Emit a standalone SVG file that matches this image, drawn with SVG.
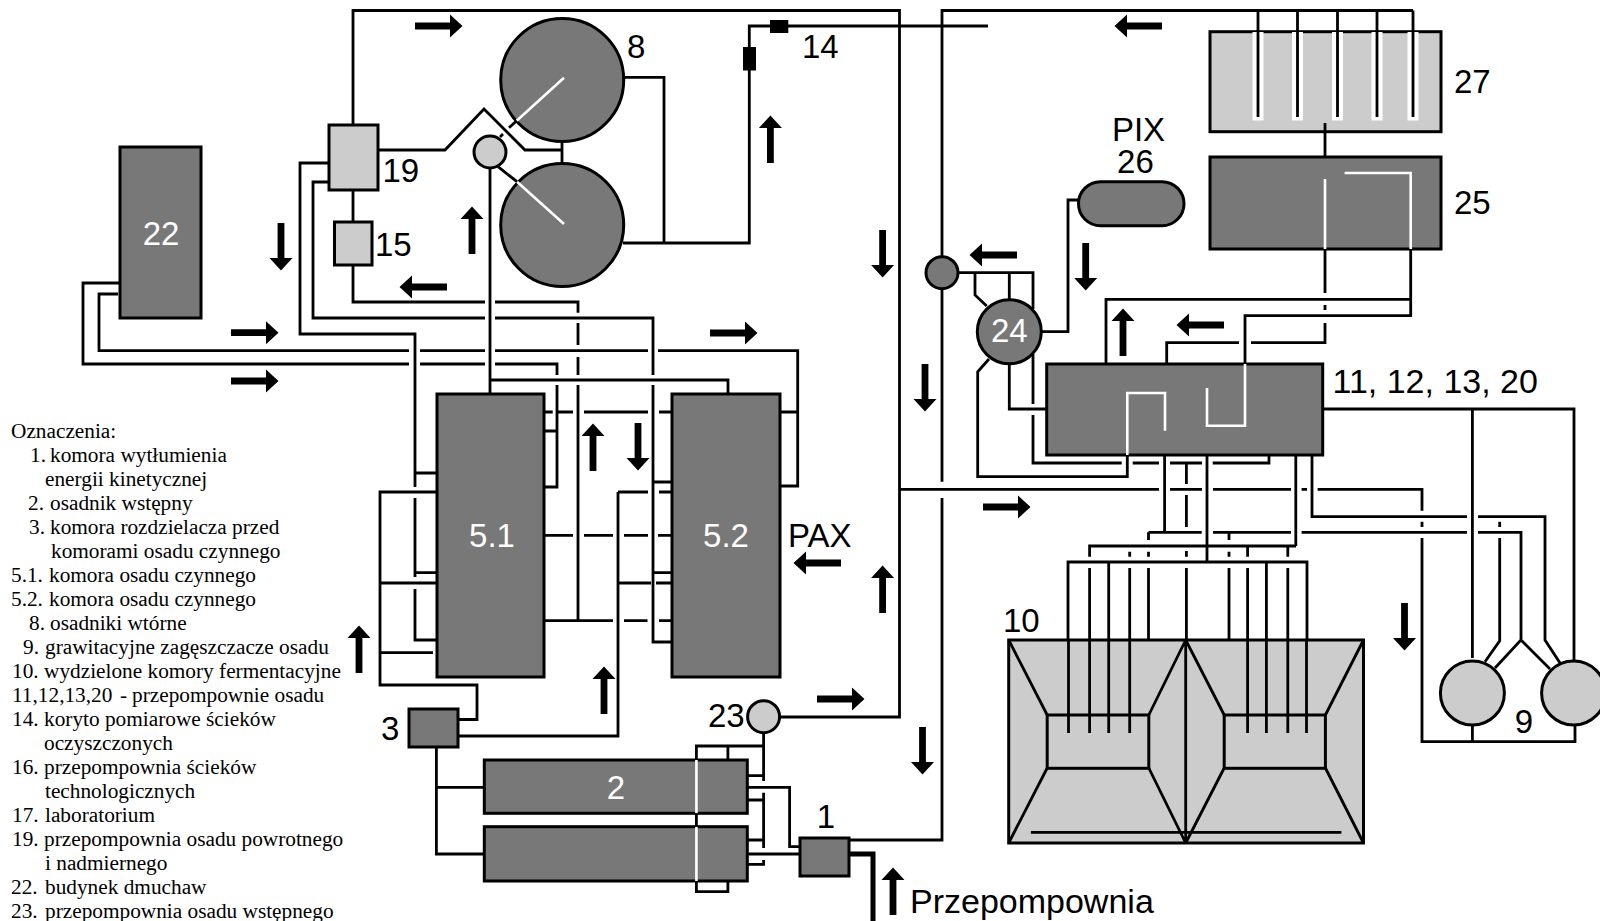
<svg xmlns="http://www.w3.org/2000/svg" width="1600" height="921" viewBox="0 0 1600 921">
<style>
.d{fill:#787878;stroke:#000;stroke-width:3}
.l{fill:#ccc;stroke:#000;stroke-width:3}
.w{fill:none;stroke:#fff;stroke-width:2.6}
.p{fill:none;stroke:#000;stroke-width:2.8}
.n{font-family:"Liberation Sans",Arial,sans-serif;font-size:33px;fill:#000}
.z{font-size:34px}
.t{fill:#fff;text-anchor:middle}
.c{text-anchor:middle}
.g{font-family:"Liberation Serif","Times New Roman",serif;font-size:21.3px;fill:#000}
.b{fill:#000;stroke:none}
</style>
<defs><path id="ar" class="b" d="M0,-3.4H35V-11.5L47.5,0L35,11.5V3.4H0Z"/></defs>
<rect width="1600" height="921" fill="#fff"/>
<g id="n22"><rect class="d" x="120" y="147" width="81" height="171"/><text class="n t" x="161" y="245">22</text></g>
<g id="n19"><rect class="l" x="329" y="125" width="49" height="65"/><text class="n" x="382.5" y="182">19</text></g>
<g id="n15"><rect class="l" x="334.5" y="222" width="37.5" height="43"/><text class="n" x="375" y="256">15</text></g>
<g id="n8"><circle class="d" cx="562.2" cy="80" r="61.5"/><circle class="d" cx="562.2" cy="225" r="61.5"/><path class="w" d="M564,77.7L516.7,120.7M564,224L517,181.7"/><text class="n" x="627" y="58">8</text></g>
<g id="n8c"><circle class="l" cx="490" cy="152" r="16"/></g>
<g id="n14"><rect class="b" x="743" y="47" width="13" height="23.5"/><rect class="b" x="770" y="20" width="18.3" height="13"/><text class="n" x="802" y="58">14</text></g>
<g id="n51"><rect class="d" x="437" y="394" width="107" height="283"/><text class="n t" x="492" y="547">5.1</text></g>
<g id="n52"><rect class="d" x="672" y="394" width="108" height="283"/><text class="n t" x="726" y="547">5.2</text></g>
<g id="n3"><rect class="d" x="409" y="709" width="49" height="38"/><text class="n" x="381" y="740">3</text></g>
<g id="n2a"><rect class="d" x="484.3" y="760" width="263" height="53.3"/><path class="w" d="M696.4,760V813.3"/><text class="n t" x="616" y="799">2</text></g>
<g id="n2b"><rect class="d" x="484.3" y="826.7" width="263" height="54.3"/><path class="w" d="M696.4,826.7V881"/></g>
<g id="n23"><circle class="l" cx="763.6" cy="716.7" r="16"/><text class="n" x="708" y="727">23</text></g>
<g id="n1"><rect class="d" x="800" y="838" width="49" height="38"/><text class="n c" x="826" y="828">1</text></g>
<g id="n24a"><circle class="d" cx="942" cy="272.7" r="16"/></g>
<g id="n24"><circle class="d" cx="1009.3" cy="331.7" r="32"/><text class="n t" x="1009.3" y="342">24</text></g>
<g id="n26"><rect class="d" x="1078.5" y="181.7" width="105.5" height="44" rx="22" ry="22"/><text class="n c" x="1138.5" y="141">PIX</text><text class="n c" x="1135.4" y="173">26</text></g>
<g id="n27"><rect class="l" x="1210" y="31.7" width="231" height="100"/><path d="M1252.5,32V120.5H1263.5V32ZM1292,32V120.5H1303V32ZM1332,32V120.5H1343V32ZM1371.5,32V120.5H1382.5V32ZM1407.5,32V120.5H1418.5V32Z" fill="#fff"/><text class="n" x="1454" y="92.5">27</text></g>
<g id="n25"><rect class="d" x="1210" y="157" width="231" height="92"/><path class="w" d="M1325,179V249M1344.6,173H1410.7V249"/><text class="n" x="1454" y="214">25</text></g>
<g id="n11"><rect class="d" x="1046.7" y="364" width="276" height="91"/><path class="w" d="M1127.3,455V393H1165V430.7M1207,388V425.7H1245V364"/><text class="n z" x="1332.5" y="393">11, 12, 13, 20</text></g>
<g id="n10"><rect class="l" x="1008.7" y="640" width="354.8" height="203"/><rect class="l" x="1047.2" y="715" width="101.6" height="53.3"/><rect class="l" x="1224.2" y="715" width="101.2" height="53.3"/>
<path class="p" d="M1008.7,640L1047.2,715M1185.7,640L1148.8,715M1185.7,640L1224.2,715M1363.5,640L1325.4,715M1008.7,843L1047.2,768M1185.7,843L1148.8,768M1185.7,843L1224.2,768M1363.5,843L1325.4,768M1185.7,640V843M1030.9,832.3H1341.4"/><text class="n" x="1003" y="632">10</text></g>
<g id="n9"><circle class="l" cx="1472.4" cy="693" r="32"/><circle class="l" cx="1573.6" cy="693" r="32"/><text class="n c" x="1524" y="733">9</text></g>
<g id="connectors" class="p">
<path class="p" d="M353,125V10.5H899.5V717H779.6"/>
<path class="p" d="M353,190V222M353,265V302H485M495,302H578V312.7M578,323V345M578,357V375M578,385V620.7"/>
<path class="p" d="M329,163H300V334H415V473H437M415,473V487M415,498V577M415,572.7H437M415,589V640H437"/>
<path class="p" d="M329,182H313V318H485M495,318H653V375M653,385V642H672M653,482H672M653,572.7H672"/>
<path class="p" d="M120,283H83V364H409M420,364H485M495,364H557V375M557,385V487H544M557,431H544"/>
<path class="p" d="M118,294H99V350.7H409M420,350.7H485M495,350.7H648M658,350.7H797.7V486H780M797.7,412H780"/>
<path class="p" d="M490,168V394M490,380H728V394"/>
<path class="p" d="M544,412H552.7M557,412H573M584,412H648M659,412H672M544,535.3H573M584,535.3H613M624,535.3H648M658,535.3H672M618,492H648M659,492H672M619,583H651M656,583H672M544,620.7H613M624,620.7H647.5M659,620.7H672"/>
<path class="p" d="M437,492H380V685H477V719.5H458M380,583H437M380,652.7H433"/>
<path class="p" d="M618,492V736H458"/>
<path class="p" d="M378,150H445L484,109L525,150H562M562,142V163M516.7,120.7L509,127.7M503,134L500,137M517,181.7L498,166.7"/>
<path class="p" d="M624,77.3H664V243M623,243H749.3V26H988"/>
<path class="p" d="M942,256V10.5H1413M942,289V481.7M942,498V840H849"/>
<path d="M849,854H873V921" fill="none" stroke="#000" stroke-width="5"/>
<path class="p" d="M436.4,747V854H484.3M436.4,787.3H484.3"/>
<path class="p" d="M763.6,733V781M763.6,792.7V848M763.6,860V864.3H747.5M763.6,775.7H747.5M763.6,800H747.5M763.6,840H747.5M747.5,787.3H789.6V846.7H800M747.5,854H800"/>
<path class="p" d="M696.4,760V746H763.6M727.9,746V760M696.4,813.3V826.7M696.4,881V891.7H727.9V881"/>
<path class="p" d="M900,489.3H1159M1170,489.3H1202M1213,489.3H1291M1301.6,489.3H1307M1317.6,489.3H1422V510.7M1422,521.7V527M1422,538V741.7H1575V725M1472.4,741.7V725"/>
<path class="p" d="M1322.7,409H1574V661M1472.4,409V658"/>
<path class="p" d="M1312,455V516.7H1467M1478,516.7H1545V640L1560,663"/>
<path class="p" d="M1148.5,532.3H1201.7M1213,532.3H1291M1301.6,532.3H1467M1478,532.3H1521V640L1495,668M1521,640L1550,669"/>
<path class="p" d="M1499.7,521.7V527M1499.7,538V640.7L1485,661.7"/>
<path class="p" d="M1106,364V299.3H1411M1166.7,364V342.7H1239M1251,342.7H1325V323M1325,310V305M1325,293V249"/>
<path class="p" d="M1245,364V315.7H1410.7V249"/>
<path class="p" d="M1325,123V157M1258,10.5V117M1297.5,10.5V117M1337.5,10.5V117M1377,10.5V117M1413,10.5V117"/>
<path class="p" d="M1078.5,200H1068V331.7H1041"/>
<path class="p" d="M958,272.7H1033V309M1033,354V404M1033,415V463H1121.7M1132.7,463H1159M1170,463H1202M1212.7,463H1269V455M975,272.7V295L986.7,306M1009.3,272.7V300"/>
<path class="p" d="M1009.3,363V409H1046.7M989,359L977.7,371.7V476.7H1127.3V455"/>
<path class="p" d="M1164.6,455V532.3M1207,455V562M1295.8,455V546M1186.4,463V484M1186.4,495V527M1186.4,551V556.7M1186.4,568V640"/>
<path class="p" d="M1089.6,556.7V546H1296M1068,640V562H1307V640M1108.7,562V640M1266.4,562V640M1089.6,568V733M1068.5,640V733M1108.7,640V733M1129.7,551.7V556.7M1129.7,568V733M1148.5,532.3V540M1148.5,551.7V556.7M1148.5,568V640M1229,533V540M1229,551.7V556.7M1229,568V640M1247.6,546.7V556.7M1247.6,568V733M1266.4,640V733M1287.8,546.7V556.7M1287.8,568V733M1306.5,640V733"/>
</g>
<g id="arrows">
<use href="#ar" transform="translate(415,26)"/>
<use href="#ar" transform="translate(770.4,163) rotate(-90)"/>
<use href="#ar" transform="translate(281,223) rotate(90)"/>
<use href="#ar" transform="translate(447,287) rotate(180)"/>
<use href="#ar" transform="translate(472,254) rotate(-90)"/>
<use href="#ar" transform="translate(231,332.7)"/>
<use href="#ar" transform="translate(231,381)"/>
<use href="#ar" transform="translate(710,333)"/>
<use href="#ar" transform="translate(593,471) rotate(-90)"/>
<use href="#ar" transform="translate(638,423) rotate(90)"/>
<use href="#ar" transform="translate(841,563) rotate(180)"/>
<use href="#ar" transform="translate(359,673) rotate(-90)"/>
<use href="#ar" transform="translate(604,714) rotate(-90)"/>
<use href="#ar" transform="translate(817,699)"/>
<use href="#ar" transform="translate(922.5,727) rotate(90)"/>
<use href="#ar" transform="translate(893,915) rotate(-90)"/>
<use href="#ar" transform="translate(882.6,613) rotate(-90)"/>
<use href="#ar" transform="translate(882.6,230) rotate(90)"/>
<use href="#ar" transform="translate(925,364) rotate(90)"/>
<use href="#ar" transform="translate(983,507)"/>
<use href="#ar" transform="translate(1017,255) rotate(180)"/>
<use href="#ar" transform="translate(1085.7,243) rotate(90)"/>
<use href="#ar" transform="translate(1123,356) rotate(-90)"/>
<use href="#ar" transform="translate(1224,325) rotate(180)"/>
<use href="#ar" transform="translate(1162,26) rotate(180)"/>
<use href="#ar" transform="translate(1404.5,603) rotate(90)"/>
</g>
<g id="labels">
<text class="n" x="788" y="547">PAX</text>
<text class="n z" x="910" y="912.5">Przepompownia</text>
</g>
<g id="legend">
<text class="g" x="11" y="438">Oznaczenia:</text>
<text class="g" y="462"><tspan x="30">1. </tspan><tspan x="50">komora wytłumienia</tspan></text>
<text class="g" x="45" y="486">energii kinetycznej</text>
<text class="g" y="510"><tspan x="28">2. </tspan><tspan x="50">osadnik wstępny</tspan></text>
<text class="g" y="534"><tspan x="29">3. </tspan><tspan x="50">komora rozdzielacza przed</tspan></text>
<text class="g" x="51" y="558">komorami osadu czynnego</text>
<text class="g" y="582"><tspan x="11">5.1. </tspan><tspan x="49">komora osadu czynnego</tspan></text>
<text class="g" y="606"><tspan x="11">5.2. </tspan><tspan x="49">komora osadu czynnego</tspan></text>
<text class="g" y="630"><tspan x="29">8. </tspan><tspan x="50">osadniki wtórne</tspan></text>
<text class="g" y="654"><tspan x="23">9. </tspan><tspan x="45">grawitacyjne zagęszczacze osadu</tspan></text>
<text class="g" y="678"><tspan x="12">10. </tspan><tspan x="44">wydzielone komory fermentacyjne</tspan></text>
<text class="g" y="702"><tspan x="12">11,12,13,20 </tspan><tspan x="120">- </tspan><tspan x="132">przepompownie osadu</tspan></text>
<text class="g" y="726"><tspan x="12">14. </tspan><tspan x="44">koryto pomiarowe ścieków</tspan></text>
<text class="g" x="44" y="750">oczyszczonych</text>
<text class="g" y="774"><tspan x="12">16. </tspan><tspan x="44">przepompownia ścieków</tspan></text>
<text class="g" x="45" y="798">technologicznych</text>
<text class="g" y="822"><tspan x="12">17. </tspan><tspan x="45">laboratorium</tspan></text>
<text class="g" y="846"><tspan x="12">19. </tspan><tspan x="44">przepompownia osadu powrotnego</tspan></text>
<text class="g" x="45" y="870">i nadmiernego</text>
<text class="g" y="894"><tspan x="11">22. </tspan><tspan x="45">budynek dmuchaw</tspan></text>
<text class="g" y="918"><tspan x="11">23. </tspan><tspan x="45">przepompownia osadu wstępnego</tspan></text>
</g>
</svg>
